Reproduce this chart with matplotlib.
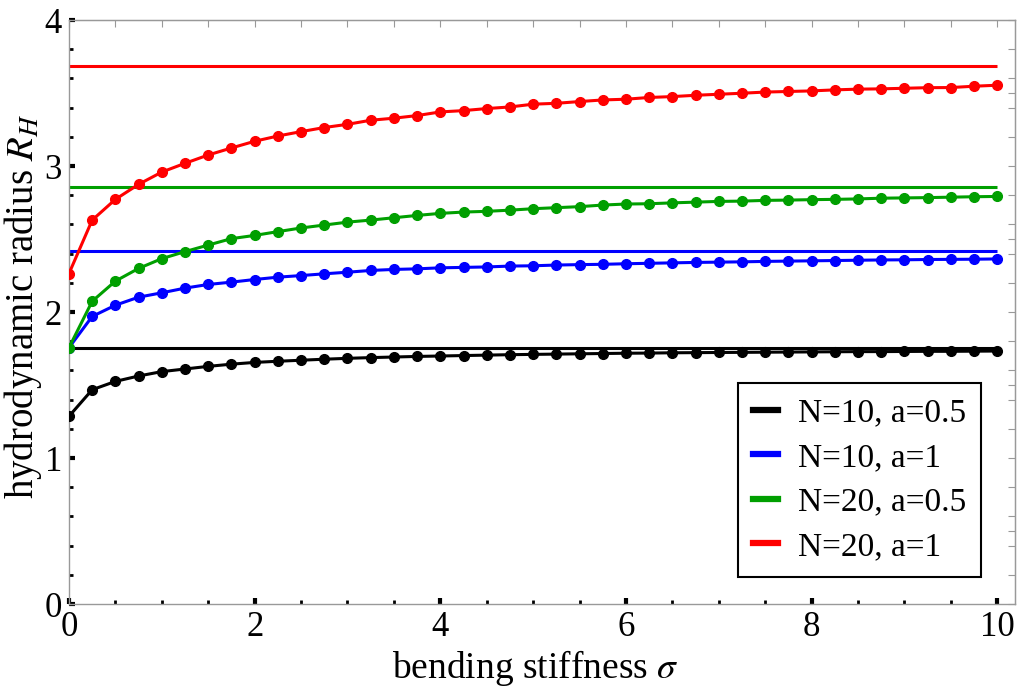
import matplotlib
matplotlib.use("Agg")
import matplotlib.pyplot as plt
from matplotlib.lines import Line2D
from matplotlib.ticker import MultipleLocator

plt.rcParams['font.family'] = ['Liberation Serif', 'DejaVu Serif']
plt.rcParams['mathtext.fontset'] = 'stix'

sigma = [i * 0.25 for i in range(41)]

rh_n10_a05 = [1.286, 1.468, 1.525, 1.562, 1.592, 1.610, 1.628, 1.643, 1.655, 1.663,
              1.670, 1.677, 1.683, 1.688, 1.692, 1.696, 1.699, 1.702, 1.705, 1.708,
              1.710, 1.712, 1.714, 1.716, 1.718, 1.719, 1.721, 1.722, 1.723, 1.724,
              1.725, 1.726, 1.727, 1.728, 1.729, 1.729, 1.730, 1.731, 1.731, 1.732, 1.733]
rh_n10_a1 = [1.756, 1.970, 2.047, 2.102, 2.132, 2.164, 2.189, 2.205, 2.223, 2.239,
             2.250, 2.262, 2.273, 2.285, 2.292, 2.296, 2.303, 2.306, 2.309, 2.315,
             2.317, 2.322, 2.325, 2.327, 2.331, 2.334, 2.337, 2.340, 2.342, 2.344,
             2.347, 2.349, 2.351, 2.353, 2.355, 2.357, 2.358, 2.360, 2.361, 2.362, 2.364]
rh_n20_a05 = [1.756, 2.074, 2.212, 2.299, 2.366, 2.414, 2.459, 2.503, 2.525, 2.551,
              2.576, 2.596, 2.616, 2.630, 2.646, 2.662, 2.676, 2.685, 2.690, 2.698,
              2.708, 2.715, 2.722, 2.733, 2.740, 2.742, 2.748, 2.753, 2.758, 2.760,
              2.765, 2.767, 2.770, 2.772, 2.775, 2.780, 2.782, 2.784, 2.787, 2.790, 2.792]
rh_n20_a1 = [2.264, 2.630, 2.772, 2.875, 2.959, 3.019, 3.076, 3.124, 3.170, 3.206,
             3.236, 3.264, 3.286, 3.314, 3.328, 3.346, 3.371, 3.380, 3.394, 3.405,
             3.424, 3.430, 3.442, 3.453, 3.458, 3.470, 3.476, 3.485, 3.492, 3.499,
             3.507, 3.511, 3.515, 3.522, 3.527, 3.529, 3.533, 3.537, 3.538, 3.547, 3.554]

limits = [1.756, 2.415, 2.854, 3.684]
labels = ['N=10, a=0.5', 'N=10, a=1', 'N=20, a=0.5', 'N=20, a=1']
colors = ['black', '#0000ff', '#009f00', '#ff0000']
series = [rh_n10_a05, rh_n10_a1, rh_n20_a05, rh_n20_a1]

fig = plt.figure(figsize=(10.19, 6.93), dpi=100)
ax = fig.add_axes([0.0677, 0.1284, 0.9283, 0.8426])

for ys, lim, c in zip(series, limits, colors):
    ax.plot([sigma[0], sigma[-1]], [lim, lim], color=c, lw=2.2, solid_capstyle='butt')
    ax.plot(sigma, ys, color=c, lw=2.2, marker='o', markersize=7, zorder=3)

ax.set_xlim(0, 10.19)
ax.set_ylim(0, 4)
ax.xaxis.set_major_locator(MultipleLocator(2))
ax.xaxis.set_minor_locator(MultipleLocator(0.5))
ax.yaxis.set_major_locator(MultipleLocator(1))
ax.yaxis.set_minor_locator(MultipleLocator(0.2))

for s in ax.spines.values():
    s.set_color('#999999')
    s.set_linewidth(1.0)

ax.tick_params(which='major', direction='in', length=4, width=3, color='black',
               labelsize=25, pad=5)
ax.tick_params(which='minor', direction='in', length=3, width=2, color='black')

# gray ticks on top and right like the frame
sec_top = ax.secondary_xaxis('top')
sec_right = ax.secondary_yaxis('right')
for sec in (sec_top, sec_right):
    sec.tick_params(which='both', direction='in', length=5, width=0.8, color='#999999')
    for s in sec.spines.values():
        s.set_color('#999999')
sec_top.tick_params(labeltop=False)
sec_right.tick_params(labelright=False)
sec_top.xaxis.set_minor_locator(MultipleLocator(0.5))
sec_right.yaxis.set_minor_locator(MultipleLocator(0.2))

ax.set_xlabel(r'bending stiffness $\sigma$', fontsize=27)
ax.xaxis.set_label_coords(0.493, -0.075)
ax.set_ylabel(r'hydrodynamic radius $R_H$', fontsize=28)
ax.yaxis.set_label_coords(-0.026, 0.51)

handles = [Line2D([], [], color=c, lw=4.5) for c in colors]
leg = ax.legend(handles, labels, loc='lower right', bbox_to_anchor=(0.964, 0.046),
                fontsize=24, handlelength=0.75, handletextpad=0.6, labelspacing=0.42,
                borderpad=0.45, borderaxespad=0, fancybox=False, framealpha=1)
leg.get_frame().set_edgecolor('black')
leg.get_frame().set_linewidth(1.5)

fig.savefig('out.png', dpi=100)
